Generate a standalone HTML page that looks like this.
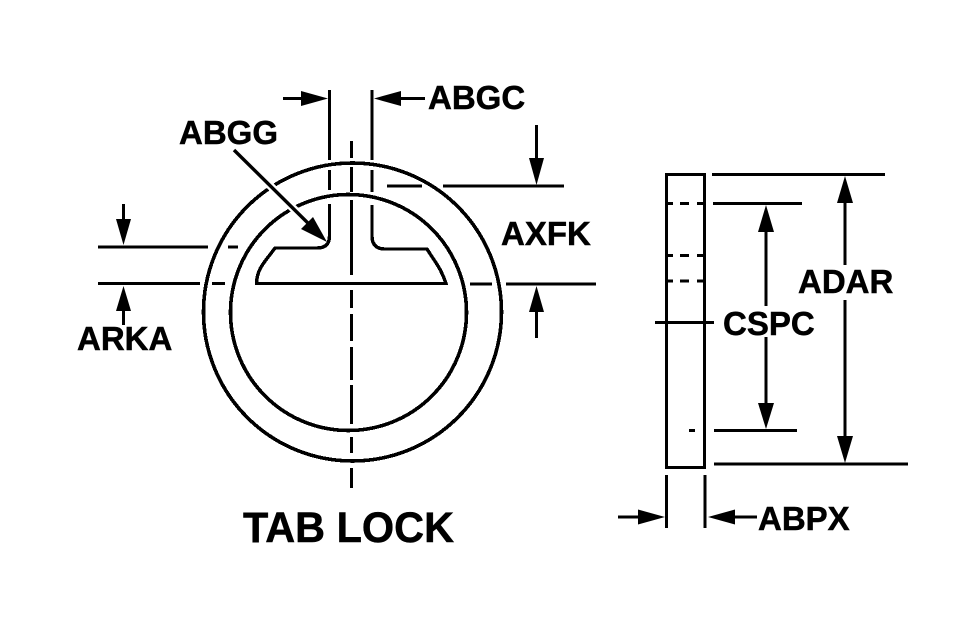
<!DOCTYPE html>
<html>
<head>
<meta charset="utf-8">
<style>
html,body{margin:0;padding:0;background:#fff;width:976px;height:622px;overflow:hidden}
svg{display:block}
text{font-family:"Liberation Sans",sans-serif;font-weight:bold;font-size:33px;fill:#000;stroke:#000;stroke-width:.5px}
</style>
</head>
<body>
<svg width="976" height="622" viewBox="0 0 976 622" xmlns="http://www.w3.org/2000/svg">
<rect width="976" height="622" fill="#fff"/>
<g fill="none" stroke="#000" stroke-width="3" shape-rendering="crispEdges">
  <circle cx="352.5" cy="312" r="149" stroke-width="3.6"/>
  <circle cx="348.5" cy="312.5" r="118" stroke-width="3.6"/>
  <path stroke-width="3.4" d="M329.5 204V236Q329.5 248 317 248H275C265 262 257 268 256.5 283.5H446C441 268 435 262 427 249H385Q372 249 372 236V205"/>
  <path d="M329.5 90V160M329.5 170V190M372 90V160M372 170V192"/>
  <path d="M351.5 141V158M351.5 167V192M351.5 200V275M351.5 290V308M351.5 314V341M351.5 347V380M351.5 385V424M351.5 437V453M351.5 468V488"/>
  <path d="M98 247H208M228 247H238M98 283.5H200M212 283.5H225M470 284H492M506 284H596M387 186H422M443 186H564"/>
  <path d="M123.5 204V222M123.5 308V325M536.5 310V338M536.5 125V160M283 98.5H303M399 98.5H425"/>
  <rect x="666.5" y="174.5" width="38" height="293"/>
  <path d="M667 203.500H673M680 203.500H689M697 203.500H704M667 255.500H673M680 255.500H689M697 255.500H704M667 281H673M680 281H689M697 281H704M689 430.500H695M655 322.500H714"/>
  <path d="M712 174.500H885M713 203.500H802M714 430.500H797M714 464H908"/>
  <path d="M845 200V265M845 300V440M766 230V306M766 337V405"/>
  <path d="M666.500 475V528M705 475V528M618 517H640M733 517H757"/>
</g>
<path d="M234 150L310 225" fill="none" stroke="#fff" stroke-width="8"/>
<path d="M234 150L318 233" fill="none" stroke="#000" stroke-width="3.4"/>
<g fill="#000">
  <path d="M327 242L301 229L313 217Z"/>
  <path d="M123.500 245L116 219H131Z"/>
  <path d="M123.500 286L116 311H131Z"/>
  <path d="M536.500 286L529 312H544Z"/>
  <path d="M536.500 185L529 158H544Z"/>
  <path d="M328 98.500L301 91V106Z"/>
  <path d="M374 98.500L401 91V106Z"/>
  <path d="M845 176L837 203H853Z"/>
  <path d="M845 463L837 436H853Z"/>
  <path d="M766 205L758 232H774Z"/>
  <path d="M766 429L758 403H774Z"/>
  <path d="M665 517L638 509.500V524.500Z"/>
  <path d="M708 517L735 509.500V524.500Z"/>
</g>
<text x="428" y="109">ABGC</text>
<text x="179" y="144">ABGG</text>
<text x="501" y="245">AXFK</text>
<text x="77" y="350">ARKA</text>
<text x="798" y="293">ADAR</text>
<text x="723" y="335">CSPC</text>
<text x="758" y="530">ABPX</text>
<text x="243" y="542" textLength="211" lengthAdjust="spacingAndGlyphs" style="font-size:43px">TAB LOCK</text>
</svg>
</body>
</html>
